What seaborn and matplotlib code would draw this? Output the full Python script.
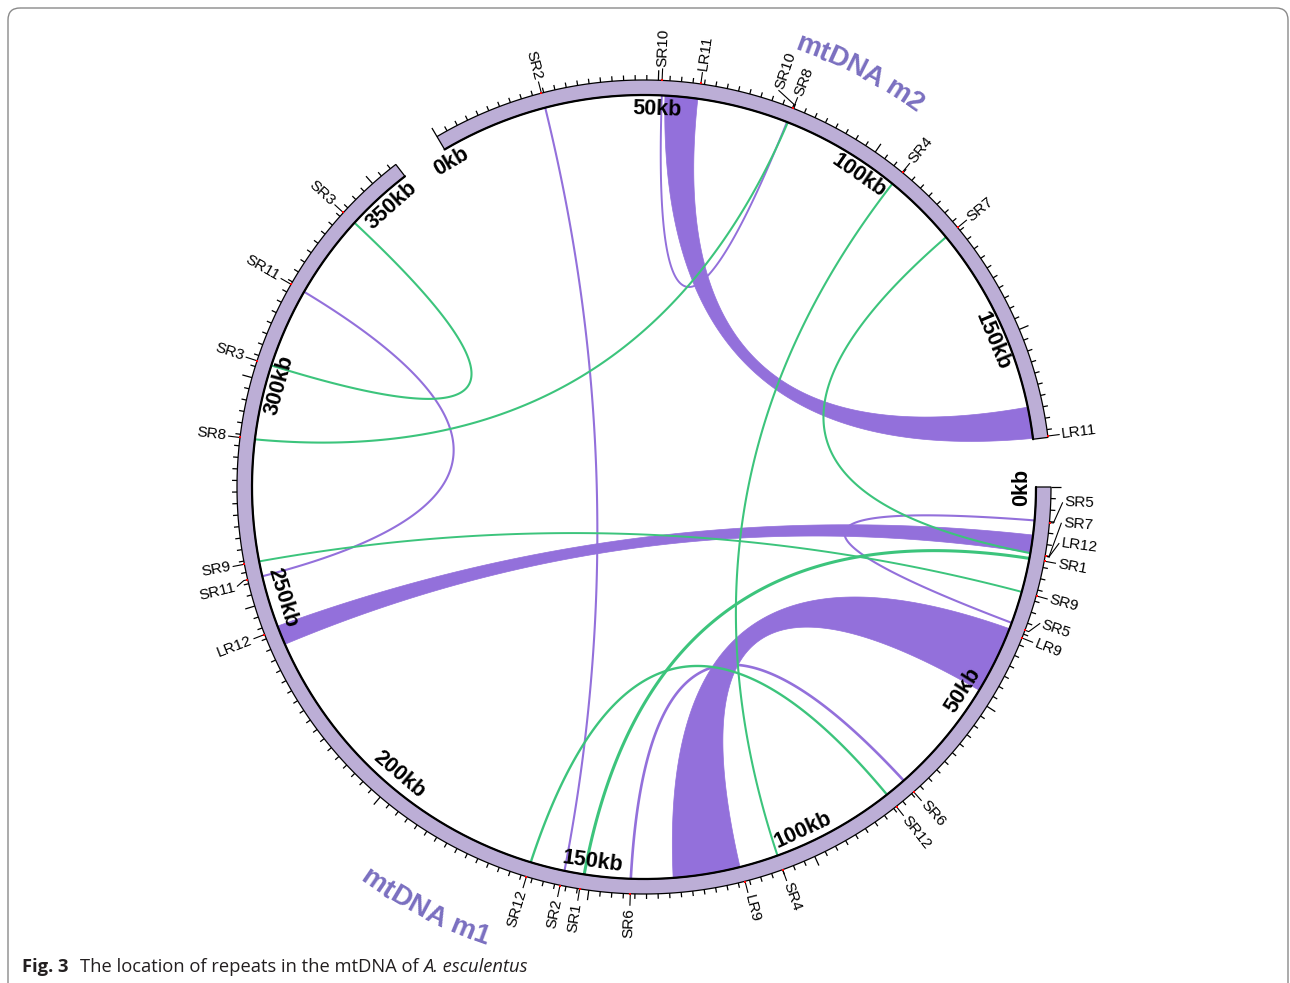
import numpy as np
import pandas as pd
import matplotlib
matplotlib.use("Agg")
import matplotlib.pyplot as plt
import seaborn as sns
from matplotlib.patches import FancyBboxPatch
from matplotlib.collections import LineCollection
from matplotlib.font_manager import FontProperties

# ---------------------------------------------------------------- data
chrom_ids = ["m1", "m2"]
chrom_titles = ["mtDNA m1", "mtDNA m2"]
chrom_len_kb = [356.5, 174.2]

# repeat anchors labelled around the ideogram (chromosome, name, position in kb)
mark_chrom = ["m2"] * 8 + ["m1"] * 22
mark_name = ["SR2", "SR10", "LR11", "SR10", "SR8", "SR4", "SR7", "LR11",
             "SR5", "SR7", "LR12", "SR1", "SR9", "SR5", "LR9", "SR6", "SR12",
             "SR4", "LR9", "SR6", "SR1", "SR2", "SR12", "LR12", "SR11", "SR9",
             "SR8", "SR3", "SR11", "SR3"]
mark_kb = [24.5, 50.8, 59.2, 79.7, 79.9, 107.3, 124.2, 173.9,
           7.7, 14.9, 15.0, 16.1, 23.8, 31.6, 33.4, 74.4, 79.3,
           107.5, 116.0, 141.0, 152.0, 156.3, 163.8, 243.5, 255.9, 259.3,
           286.8, 303.8, 321.9, 341.1]

# short repeat pairs (F = forward, P = palindromic)
link_name = ["SR2", "SR10", "SR8", "SR4", "SR7", "SR3", "SR11", "SR9",
             "SR5", "SR1", "SR12", "SR6"]
link_type = ["F", "F", "P", "P", "P", "P", "F", "P", "F", "P", "P", "F"]
link_chrom_a = ["m2", "m2", "m2", "m2", "m2", "m1", "m1", "m1",
                "m1", "m1", "m1", "m1"]
link_kb_a = [24.5, 50.9, 79.9, 107.2, 124.2, 303.8, 255.9, 23.8,
             7.5, 16.1, 79.3, 74.4]
link_chrom_b = ["m1", "m2", "m1", "m1", "m1", "m1", "m1", "m1",
                "m1", "m1", "m1", "m1"]
link_kb_b = [156.0, 79.7, 286.8, 107.5, 14.9, 341.1, 321.9, 259.3,
             31.1, 151.5, 163.8, 141.0]

# long repeat pairs drawn as ribbons
ribbon_name = ["LR9", "LR11", "LR12"]
ribbon_chrom_a = ["m1", "m2", "m1"]
ribbon_a_start = [32.5, 51.6, 10.8]
ribbon_a_end = [47.9, 59.0, 14.8]
ribbon_chrom_b = ["m1", "m2", "m1"]
ribbon_b_start = [116.3, 166.9, 239.8]
ribbon_b_end = [131.5, 174.0, 244.2]

caption_parts = ["Fig. 3", "The location of repeats in the mtDNA of", "A. esculentus"]

# ---------------------------------------------------------------- style
PURPLE = "#9370db"
GREEN = "#3cc47c"
BAND = "#bcaed6"
TITLE = "#7a6fc0"
type_colors = {"F": PURPLE, "P": GREEN}
thin_lw = {"SR1": 2.2, "SR12": 1.7, "SR6": 1.9, "SR10": 1.4, "SR9": 1.4}

sns.set_theme(style="white")
plt.rcParams["font.family"] = ["Liberation Sans", "DejaVu Sans"]

W, H = 1290, 983
fig = plt.figure(figsize=(W / 100, H / 100), dpi=100)
ax = fig.add_axes([0, 0, 1, 1])
ax.set_xlim(0, W)
ax.set_ylim(H, 0)
ax.axis("off")

CX, CY = 644.0, 487.0
R_IN, R_OUT = 392.0, 407.0
GAP = 7.0
scale = (360.0 - 2 * GAP) / sum(chrom_len_kb)
start = {"m1": 90.0, "m2": 90.0 + chrom_len_kb[0] * scale + GAP}


def ang(c, kb):
    return start[c] + np.asarray(kb) * scale


def xy(theta, r):
    t = np.deg2rad(theta)
    return CX + r * np.sin(t), CY - r * np.cos(t)


def control_point(a, b, r):
    va = np.array(xy(a, 1.0)) - [CX, CY]
    vb = np.array(xy(b, 1.0)) - [CX, CY]
    s = va + vb
    d = abs(((b - a + 180) % 360) - 180)
    chord_r = r * np.cos(np.deg2rad(d / 2))
    rc = 0.06 * chord_r
    n = np.hypot(*s)
    if n < 1e-9:
        return np.array([CX, CY])
    return np.array([CX, CY]) + s / n * rc


def bezier(a, b, r, n=120):
    p0 = np.array(xy(a, r))
    p2 = np.array(xy(b, r))
    c = control_point(a, b, r)
    t = np.linspace(0, 1, n)[:, None]
    return (1 - t) ** 2 * p0 + 2 * (1 - t) * t * c + t ** 2 * p2


# ---------------------------------------------------------------- ribbons
R_LINK = R_IN - 0.5
for i in range(len(ribbon_name)):
    a0 = ang(ribbon_chrom_a[i], ribbon_a_start[i])
    a1 = ang(ribbon_chrom_a[i], ribbon_a_end[i])
    b0 = ang(ribbon_chrom_b[i], ribbon_b_start[i])
    b1 = ang(ribbon_chrom_b[i], ribbon_b_end[i])
    arc_a = np.column_stack(xy(np.linspace(a0, a1, 40), R_LINK))
    arc_b = np.column_stack(xy(np.linspace(b0, b1, 40), R_LINK))
    pts = np.vstack([arc_a, bezier(a1, b0, R_LINK), arc_b, bezier(b1, a0, R_LINK)])
    ax.fill(pts[:, 0], pts[:, 1], color=PURPLE, lw=0.5, zorder=2)

# ---------------------------------------------------------------- thin links
rows = []
for i in range(len(link_name)):
    a = float(ang(link_chrom_a[i], link_kb_a[i]))
    b = float(ang(link_chrom_b[i], link_kb_b[i]))
    curve = bezier(a, b, R_LINK)
    w = thin_lw.get(link_name[i], 1.5)
    for k, (x, y) in enumerate(curve):
        rows.append({"link": i, "x": x, "y": y, "kind": link_type[i], "w": w, "k": k})
links = pd.DataFrame(rows)
sns.lineplot(data=links, x="x", y="y", units="link", estimator=None, sort=False,
             hue="kind", palette=type_colors,
             size="w", sizes={v: v for v in links["w"].unique()},
             legend=False, ax=ax, zorder=2.5)

# ---------------------------------------------------------------- ideogram
for cid, L in zip(chrom_ids, chrom_len_kb):
    th = np.linspace(ang(cid, 0), ang(cid, L), 500)
    ox, oy = xy(th, R_OUT)
    ix, iy = xy(th[::-1], R_IN)
    ax.fill(np.r_[ox, ix], np.r_[oy, iy], fc=BAND, ec="black", lw=0.9, zorder=3)
    ax.plot(*xy(th, R_IN), color="black", lw=1.6, zorder=3.5)

# ticks and kb labels
segs = []
for cid, L in zip(chrom_ids, chrom_len_kb):
    for kb in np.arange(0, L + 1e-6, 2.5):
        major = abs(kb % 50) < 1e-6
        t = ang(cid, kb)
        segs.append([xy(t, R_OUT), xy(t, R_OUT + (10 if major else 5))])
    for kb in range(0, int(L) + 1, 50):
        t = float(ang(cid, kb))
        rot = -(((t + 90) % 180) - 90)
        x, y = xy(t, 378)
        ax.text(x, y, f"{kb}kb", rotation=rot, ha="center", va="center",
                rotation_mode="anchor", fontsize=15.5, fontweight="bold",
                color="black", zorder=6)
ax.add_collection(LineCollection(segs, colors="black", linewidths=0.9, zorder=4))


# ---------------------------------------------------------------- repeat labels
def spread(theta, sep):
    """Push crowded labels back (counter-clockwise) so that none overlap."""
    order = np.argsort(theta, kind="stable")
    out = np.array(theta, dtype=float)
    for j in range(len(order) - 2, -1, -1):
        i, nxt = order[j], order[j + 1]
        out[i] = min(theta[i], out[nxt] - sep)
    return out


th_true = np.array([float(ang(c, k)) % 360 for c, k in zip(mark_chrom, mark_kb)])
th_disp = spread(th_true, 2.8)
lead = []
for name, t, td in zip(mark_name, th_true, th_disp):
    lead.append([xy(t, R_OUT), xy(t, R_OUT + 4), xy(td, R_OUT + 12)])
    x, y = xy(td, R_OUT + 14)
    if (td % 360) < 180:
        rot, ha = 90 - td, "left"
    else:
        rot, ha = 270 - td, "right"
    ax.text(x, y, name, rotation=rot, ha=ha, va="center", rotation_mode="anchor",
            fontsize=11, color="black", zorder=6)
ax.add_collection(LineCollection(lead, colors="black", linewidths=0.8, zorder=4))
dx, dy = xy(th_true, R_OUT + 0.5)
ax.scatter(dx, dy, s=3, marker="s", color="red", linewidths=0, zorder=5)

# ---------------------------------------------------------------- curved titles
renderer = fig.canvas.get_renderer()


def text_w(s, fp):
    if not s:
        return 0.0
    return renderer.get_text_width_height_descent(s, fp, ismath=False)[0]


def arc_text(s, theta_c, r_base, r_mid, top, size):
    fp = FontProperties(family=["Liberation Sans"], weight="bold", size=size)
    total = text_w(s, fp)
    for i, ch in enumerate(s):
        if ch == " ":
            continue
        centre = text_w(s[:i + 1], fp) - text_w(ch, fp) / 2 - total / 2
        d = np.rad2deg(centre / r_mid)
        th = theta_c + d if top else theta_c - d
        rot = -th if top else 180 - th
        x, y = xy(th, r_base)
        ax.text(x, y, ch, rotation=rot, ha="center", va="baseline",
                rotation_mode="anchor", fontproperties=fp, color=TITLE, zorder=6)


arc_text(chrom_titles[1], 27.5, 463, 473, True, 20)
arc_text(chrom_titles[0], 207.5, 485, 475, False, 20)

# ---------------------------------------------------------------- caption and frame
styles = [dict(weight="bold"), dict(), dict(style="italic")]
gaps = [11, 5, 0]
x = 22
for txt, st, g in zip(caption_parts, styles, gaps):
    fp = FontProperties(family=["Open Sans", "DejaVu Sans"], size=13.2, **st)
    ax.text(x, 972, txt, fontproperties=fp, ha="left", va="baseline",
            color="#231f20", zorder=6)
    x += text_w(txt, fp) + g

ax.add_patch(FancyBboxPatch((8, 8), 1280, 988, boxstyle="round,pad=0,rounding_size=12",
                            ec="#8a8a8a", fc="none", lw=1.0, zorder=1))

ax.set_xlim(0, W)
ax.set_ylim(H, 0)
fig.savefig("out.png", dpi=100)
